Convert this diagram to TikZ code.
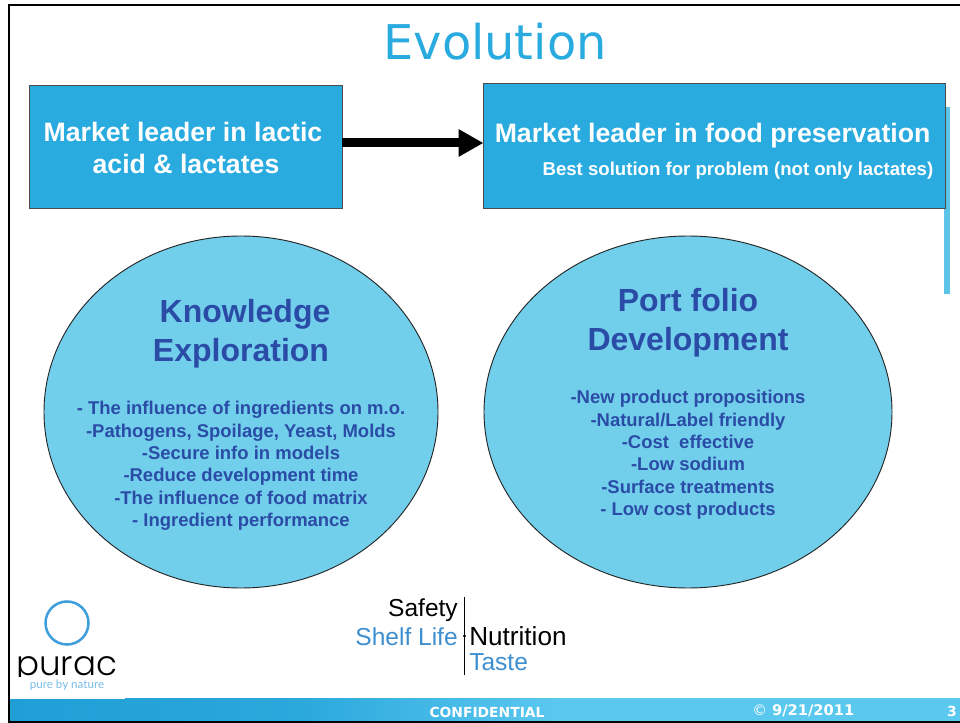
\documentclass[tikz,border=0pt]{standalone}
\usepackage{fontspec}
\usetikzlibrary{shapes.geometric,arrows.meta}
\setmainfont{Liberation Sans}
\newfontfamily\verd{DejaVu Sans}
\newfontfamily\pop{Poppins Light}
\newfontfamily\lat{Lato}
\definecolor{boxblue}{HTML}{29ABE0}
\definecolor{ellblue}{HTML}{72CFEB}
\definecolor{navy}{HTML}{2A4CA6}
\definecolor{logoblue}{HTML}{3F9FDC}
\definecolor{tagblue}{HTML}{3D8FD0}
\definecolor{barl}{HTML}{1F9FD6}
\definecolor{barm}{HTML}{2BA8DC}
\definecolor{barr}{HTML}{5BC8F0}
\tikzset{
 px/.style={x=0.75pt,y=-0.75pt},
 bluebox/.style={draw=black!70!white,line width=0.75pt,fill=boxblue,inner sep=0pt,outer sep=0pt,anchor=north west},
 oval/.style={ellipse,draw=black!85,line width=0.7pt,fill=ellblue,inner sep=0pt,outer sep=0pt,minimum height=264pt},
 boxhead/.style={text=white,font=\bfseries\fontsize{20pt}{24pt}\selectfont,align=center,inner sep=0pt},
 ovalhead/.style={text=navy,font=\bfseries\fontsize{24pt}{29pt}\selectfont,align=center,inner sep=0pt},
 ovalbody/.style={text=navy,font=\bfseries\fontsize{13.85pt}{16.8pt}\selectfont,align=center,inner sep=0pt},
 tagline/.style={font=\fontsize{18.4pt}{20pt}\selectfont,inner sep=0pt},
 foot/.style={text=white,font=\verd\bfseries\fontsize{10.4pt}{12pt}\selectfont,inner sep=0pt},
}
\begin{document}
\begin{tikzpicture}[px]
\useasboundingbox (0,0) rectangle (960,723);
\fill[white] (0,0) rectangle (960,723);
% footer bar
\fill[left color=barl,right color=barm] (10,698) rectangle (300,721);
\fill[left color=barm,right color=barr] (300,698) rectangle (560,721);
\fill[barr] (560,698) rectangle (960,721);
\fill[white] (10,697) rectangle (125,699);
% frame
\draw[black,line width=1.5pt] (960,5) -- (8.5,5) -- (8.5,722) -- (960,722);
% right strip
\fill[ellblue!70!boxblue] (944,107) rectangle (950,294);
% title
\node[text=boxblue,font=\verd\fontsize{35.9pt}{40pt}\selectfont,inner sep=0pt] (title) at (495,42) {Evolution};
% boxes
\node[bluebox,minimum width=234.9pt,minimum height=92.25pt] (left) at (29,85.5) {};
\node[boxhead] (lefttext) at (183,148) {Market leader in lactic\\\hspace*{4.5pt}acid \& lactates};
\node[bluebox,minimum width=346.5pt,minimum height=94.1pt] (right) at (483.5,83.5) {};
\node[boxhead,anchor=west] (righttext) at (494.5,136) {Market leader in food preservation};
\node[text=white,font=\bfseries\fontsize{13.95pt}{16pt}\selectfont,inner sep=0pt,anchor=east] (rightsub) at (933.5,171) {Best solution for problem (not only lactates)};
% arrow
\draw[-{Triangle[length=18.75pt,width=19.5pt]},line width=6.75pt,black] (left.east |- 0,143) -- (right.west |- 0,143);
% ovals
\node[oval,minimum width=295.5pt] (know) at (241,412) {};
\node[oval,minimum width=306pt] (port) at (688,412) {};
\node[ovalhead] (knowh) at (241,334) {\hspace*{6pt}Knowledge\\Exploration};
\node[ovalbody] (knowb) at (241,466) {- The influence of ingredients on m.o.\\-Pathogens, Spoilage, Yeast, Molds\\-Secure info in models\\-Reduce development time\\-The influence of food matrix\\- Ingredient performance};
\node[ovalhead] (porth) at (688,323) {Port folio\\Development};
\node[ovalbody] (portb) at (688,455) {-New product propositions\\-Natural/Label friendly\\-Cost\ \ effective\\-Low sodium\\-Surface treatments\\- Low cost products};
% logo
\draw[logoblue,line width=1.9pt] (67,623) circle (21.5);
\begin{scope}
\clip (10,640) rectangle (125,676);
\node[text=black,font=\pop\fontsize{25.6pt}{27pt}\selectfont,inner sep=0pt,text depth=0pt,anchor=base] (purac) at (66.5,675.5) {purac};
\end{scope}
\node[text=logoblue!70,font=\lat\fontsize{8.7pt}{10pt}\selectfont,inner sep=0pt] (pure) at (67,685.5) {pure by nature};
% tagline
\coordinate (bartop) at (464.5,597);
\coordinate (barbot) at (464.5,675);
\draw[black,line width=0.75pt] (bartop) -- (barbot);
\fill[black] (464.5,636) circle (1.7);
\node[tagline,anchor=east,text=black] (safety) at (458,610.5) {Safety};
\node[tagline,anchor=east,text=tagblue] (shelf) at (458,636.5) {Shelf Life};
\node[tagline,anchor=west,text=black,font=\fontsize{19.6pt}{20pt}\selectfont] (nutri) at (469,636.5) {Nutrition};
\node[tagline,anchor=west,text=tagblue] (taste) at (469,662.5) {Taste};
% footer text
\node[foot] (conf) at (487,712) {CONFIDENTIAL};
\node[foot,anchor=west,font=\verd\bfseries\fontsize{11pt}{12pt}\selectfont] (copy) at (752,711) {{\normalfont\verd ©} 9/21/2011};
\node[foot,anchor=east] (num) at (957,711.5) {3};
\end{tikzpicture}
\end{document}
